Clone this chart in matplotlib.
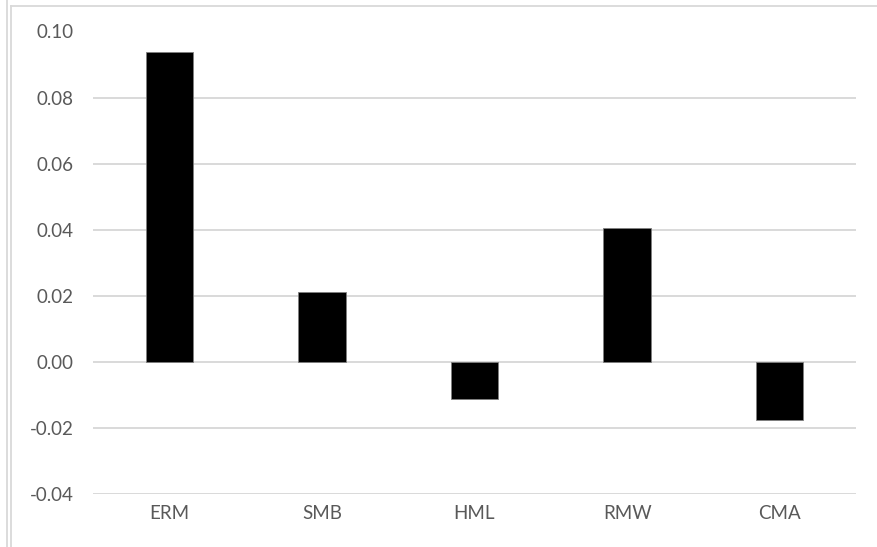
import matplotlib
matplotlib.use('Agg')

import matplotlib.pyplot as plt
from matplotlib.lines import Line2D

# factor loadings
factors = ['ERM', 'SMB', 'HML', 'RMW', 'CMA']
loadings = [0.0937, 0.0212, -0.0112, 0.0405, -0.0175]
yticks = [-0.04, -0.02, 0.00, 0.02, 0.04, 0.06, 0.08, 0.10]

grid_col = '#d9d9d9'
text_col = '#595959'

plt.rcParams['font.family'] = ['Lato', 'DejaVu Sans']

fig = plt.figure(figsize=(8.78, 5.47), dpi=100)
W, H = 878, 547

# chart frame lines (outer edge + inner box, cut off at right/bottom)
fig.add_artist(Line2D([7 / W, 7 / W], [0, 1], color=grid_col, lw=1.3))
fig.add_artist(Line2D([11 / W, 11 / W], [0, 1 - 6 / H], color=grid_col, lw=1.3))
fig.add_artist(Line2D([11 / W, 1], [1 - 6 / H, 1 - 6 / H], color=grid_col, lw=1.3))

ax = fig.add_axes([93 / W, 1 - 494 / H, (856 - 93) / W, (494 - 31.5) / H])

x = range(len(factors))
ax.bar(x, loadings, width=0.31, color='black', edgecolor='#7f7f7f', linewidth=0.6, zorder=3)

ax.set_xlim(-0.5, len(factors) - 0.5)
ax.set_ylim(-0.04, 0.10)
ax.set_yticks(yticks)
ax.set_yticklabels([f'{v:.2f}' for v in yticks])
ax.set_xticks(list(x))
ax.set_xticklabels(factors)

ax.yaxis.grid(True, color=grid_col, lw=1.4, zorder=0)
ax.set_axisbelow(True)
for s in ax.spines.values():
    s.set_visible(False)
ax.tick_params(axis='both', length=0, labelsize=13.5, labelcolor=text_col)
ax.tick_params(axis='y', pad=14)
ax.tick_params(axis='x', pad=8)

fig.savefig('out.png', dpi=100)
